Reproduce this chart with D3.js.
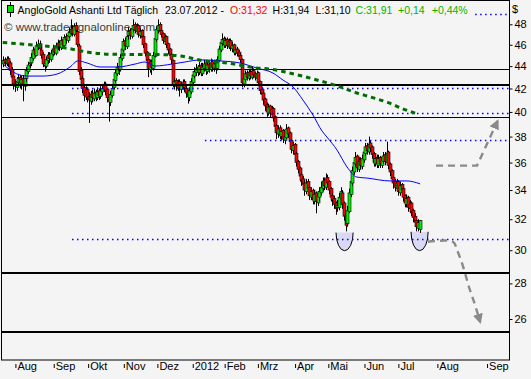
<!DOCTYPE html>
<html><head><meta charset="utf-8">
<script src="https://cdn.jsdelivr.net/npm/d3@7"></script>
<style>body{margin:0;background:#f4f4f4}svg{display:block}</style>
</head><body><svg id="c" width="531" height="379"></svg>
<script>
// ---- data (daily candles, index 0 = late July 2011, last = 23.07.2012) ----
const opens=[44.2,44.6,44.2,44.7,44.3,43.7,43.1,42.3,42.1,42.5,43.0,42.4,42.9,42.2,42.9,43.5,44.2,44.3,44.7,45.6,
45.0,45.8,46.1,45.5,45.1,44.1,44.0,44.5,45.1,44.6,45.1,45.7,45.2,45.8,46.2,45.7,46.5,45.9,46.8,46.4,
46.8,47.1,47.6,47.0,47.9,47.3,45.9,43.6,42.9,42.1,41.3,41.9,41.3,40.9,41.6,41.1,41.7,41.2,41.8,41.3,
41.7,42.1,42.4,41.9,41.1,40.8,41.4,42.1,42.7,43.3,44.0,43.7,44.7,45.5,46.4,45.8,46.9,47.4,46.8,47.5,
48.0,47.3,47.9,46.9,47.4,46.8,46.1,45.3,44.6,43.7,44.4,43.8,44.9,46.5,47.4,48.0,47.4,47.1,46.3,46.8,
46.1,45.6,45.1,44.5,42.3,42.7,42.1,42.6,41.9,42.2,42.6,42.0,41.7,41.2,41.7,42.5,43.1,43.4,43.9,43.4,
44.1,43.3,43.8,44.3,43.5,44.2,43.7,44.4,43.8,44.3,43.8,44.5,45.5,46.1,46.6,45.9,46.5,45.8,46.4,45.6,
46.0,45.2,45.6,45.3,45.0,44.6,42.4,42.8,43.4,42.9,43.5,43.0,43.6,43.3,42.9,43.4,42.6,41.9,41.6,41.1,
40.6,39.9,40.5,39.8,40.3,39.6,38.9,38.2,38.7,38.0,38.5,37.7,37.9,38.7,38.3,37.7,36.9,37.4,36.7,36.1,
35.6,35.1,34.8,34.5,33.9,34.6,34.2,33.5,34.0,33.2,33.8,33.1,33.5,33.8,34.1,34.7,34.2,34.9,34.6,34.1,
33.6,33.4,33.1,32.8,32.8,33.4,33.8,33.1,32.3,31.7,32.5,33.7,34.5,35.3,35.9,36.5,35.5,36.2,35.7,36.2,
36.7,37.3,36.8,37.5,37.2,36.7,35.9,36.4,35.8,36.4,35.8,36.1,36.6,36.0,36.8,35.9,35.4,34.9,34.6,34.1,
34.6,33.8,34.4,34.1,33.6,33.0,33.5,32.7,33.1,32.6,32.2,31.9,31.4,31.32];
const highs=[44.9,44.8,44.9,44.9,44.5,43.9,43.3,42.8,43.0,43.3,43.2,43.1,43.2,43.2,43.9,44.4,44.7,45.2,45.8,45.9,
46.3,46.5,46.4,45.8,45.3,44.5,44.9,45.3,45.3,45.5,46.0,45.9,46.2,46.5,46.4,46.8,46.7,47.0,47.1,47.3,
47.7,48.5,47.9,48.1,48.2,47.5,46.1,43.9,43.1,42.3,42.2,42.1,41.7,41.8,41.9,42.0,41.9,42.1,42.0,42.2,
42.4,42.6,42.6,42.0,41.5,41.8,42.3,43.1,43.7,44.3,44.3,45.1,45.9,46.6,46.7,47.1,47.7,47.6,47.9,48.5,
48.2,48.1,48.0,47.6,47.5,46.9,46.2,45.4,44.7,44.6,44.6,45.3,46.9,47.8,48.5,48.2,47.7,47.2,47.0,46.9,
46.2,45.7,45.3,44.6,42.9,42.9,42.8,42.8,42.6,42.8,42.8,42.2,41.9,42.1,42.9,43.5,43.9,44.2,44.1,44.4,
44.3,44.3,44.6,44.5,44.5,44.4,44.7,44.6,44.6,44.5,44.9,45.9,46.5,47.1,46.8,46.7,46.7,46.6,46.6,46.3,
46.1,45.8,45.8,45.5,45.2,44.7,43.3,43.6,43.6,43.7,43.7,44.0,43.8,43.5,43.6,43.5,42.7,42.1,41.8,41.2,
40.8,40.7,40.6,40.5,40.4,39.7,39.0,38.9,38.9,38.7,38.6,38.3,39.0,38.8,38.4,37.8,37.6,37.5,36.8,36.2,
35.7,35.3,35.0,34.7,34.8,34.8,34.3,34.2,34.1,34.0,33.9,33.9,34.2,34.6,34.9,34.9,35.2,35.1,34.7,34.2,
33.8,33.6,33.2,33.3,33.8,34.2,34.0,33.2,32.4,32.9,34.1,34.9,35.7,36.3,36.8,36.6,36.4,36.4,36.6,37.1,
37.5,37.5,38.0,37.7,37.3,36.8,36.6,36.6,36.6,36.5,36.5,36.8,36.8,37.6,36.9,36.0,35.5,35.0,34.8,34.8,
34.7,34.6,34.5,34.2,33.7,33.7,33.6,33.3,33.2,32.7,32.4,32.0,32.0,31.94];
const lows=[43.9,44.0,44.0,43.9,43.2,42.7,41.9,41.7,41.8,42.2,42.0,41.9,40.9,41.8,42.6,43.3,43.8,44.0,44.5,44.8,
44.9,45.5,45.2,44.7,43.9,43.5,43.8,44.2,44.3,44.4,44.9,45.0,45.0,45.5,45.4,45.5,45.7,45.8,46.1,46.2,
46.6,46.9,46.8,46.8,47.0,45.8,43.2,42.4,41.6,40.9,41.0,40.8,39.1,40.6,40.8,40.9,40.9,41.0,41.0,41.1,
41.4,41.7,41.4,40.8,39.2,40.5,41.2,41.9,42.5,43.1,43.2,43.5,44.5,45.3,45.5,45.6,46.5,46.5,46.6,47.2,
47.1,47.0,46.7,46.6,46.3,45.7,44.9,44.1,43.0,43.4,43.2,43.6,44.8,46.3,47.1,47.0,46.7,46.1,46.0,45.7,
45.1,44.7,44.2,42.1,41.9,41.8,41.8,41.3,41.6,41.9,41.7,41.2,40.7,40.9,41.5,42.3,42.9,43.1,43.1,43.2,
43.1,43.1,43.5,43.2,43.3,43.4,43.5,43.5,43.5,43.3,43.6,44.4,45.3,45.9,45.7,45.7,45.6,45.6,45.4,45.3,
45.0,45.0,44.9,44.6,44.3,42.1,42.1,42.6,42.7,42.7,42.8,42.8,42.9,42.7,42.7,42.2,41.5,41.1,40.6,40.1,
39.6,39.7,39.5,39.6,39.2,38.5,37.8,37.9,37.8,37.7,37.5,37.4,37.8,37.9,37.3,36.7,36.6,36.3,35.7,35.2,
34.6,34.3,34.0,33.6,33.7,33.8,33.3,33.3,33.0,33.0,32.4,32.9,33.2,33.6,33.9,34.0,34.0,34.2,33.7,33.2,
32.9,32.7,32.3,32.5,32.6,33.2,32.7,31.9,31.2,31.5,32.4,33.5,34.3,35.1,35.7,35.3,35.3,35.5,35.5,36.0,
36.5,36.6,36.6,36.8,36.3,35.7,35.7,35.6,35.6,35.6,35.6,35.9,35.8,35.9,35.5,35.0,34.5,34.1,33.9,33.9,
33.6,33.6,33.7,33.2,32.8,32.8,32.5,32.4,32.2,31.8,31.5,31.2,31.2,31.10];
const closes=[44.5,44.3,44.6,44.2,43.6,43.0,42.4,42.2,42.6,42.9,42.5,42.8,42.3,42.9,43.6,44.1,44.3,44.8,45.5,45.1,
45.9,46.0,45.6,45.0,44.2,44.0,44.6,45.0,44.7,45.2,45.6,45.3,45.9,46.1,45.8,46.4,46.0,46.7,46.5,46.9,
47.2,47.5,47.1,47.8,47.4,46.0,43.5,42.8,42.0,41.4,41.8,41.2,41.0,41.5,41.2,41.6,41.3,41.7,41.4,41.8,
42.0,42.3,41.8,41.2,40.9,41.5,42.0,42.8,43.4,43.9,43.6,44.8,45.6,46.3,45.9,46.8,47.3,46.9,47.6,47.9,
47.4,47.8,47.0,47.3,46.7,46.0,45.2,44.5,43.8,44.3,43.9,45.0,46.6,47.5,47.9,47.3,47.0,46.4,46.7,46.0,
45.5,45.0,44.6,42.4,42.6,42.2,42.5,42.0,42.3,42.5,42.1,41.6,41.3,41.8,42.6,43.2,43.5,43.8,43.5,44.0,
43.4,43.9,44.2,43.6,44.1,43.8,44.3,43.9,44.2,43.7,44.6,45.6,46.2,46.5,46.0,46.4,45.9,46.3,45.7,45.9,
45.3,45.5,45.2,44.9,44.6,42.5,42.9,43.3,43.0,43.4,43.1,43.5,43.2,43.0,43.3,42.5,41.8,41.5,41.0,40.5,
40.0,40.4,39.9,40.2,39.5,38.8,38.3,38.6,38.1,38.4,37.8,38.0,38.6,38.2,37.6,37.0,37.3,36.6,36.0,35.5,
35.0,34.7,34.4,34.0,34.5,34.1,33.6,33.9,33.3,33.7,33.2,33.6,33.9,34.2,34.6,34.3,34.8,34.5,34.0,33.5,
33.3,33.0,32.7,32.9,33.5,33.9,33.0,32.2,31.6,32.6,33.8,34.6,35.4,36.0,36.4,35.6,36.1,35.8,36.3,36.8,
37.2,36.9,37.4,37.1,36.6,36.0,36.3,35.9,36.3,35.9,36.2,36.5,36.1,36.7,35.8,35.3,34.8,34.5,34.2,34.5,
33.9,34.3,34.0,33.5,33.1,33.4,32.8,33.0,32.5,32.1,31.8,31.5,31.77,31.91];

// moving average (blue), nodes: candle index / price
const maIdx=[-0.2,5.8,14.3,24.1,32.6,40.5,45.3,50.8,58.7,69.7,80.0,86.1,92.2,102.5,110.4,119.5,131.7,143.8,154.2,163.9,170.0,176.1,182.1,188.2,193.7,196.7,202.8,208.9,214.9,221.0,235.0,245.3,253.3];
const maVal=[44.19,43.47,43.10,43.10,43.28,43.92,44.48,44.29,43.92,43.92,44.19,44.38,44.01,44.19,44.38,44.57,44.48,44.29,43.82,43.37,42.74,42.13,41.0,39.74,38.44,37.96,36.95,35.67,34.93,34.86,34.65,34.65,34.44];

// green dashed trend curve
const trendIdx=[-0.4,11.1,24.3,38.5,51.6,65.8,79.0,92.2,107.4,121.5,137.8,152.3,163.1,173.2,183.3,193.5,203.6,213.7,223.9,234.0,243.5,252.2];
const trendVal=[46.21,46.08,45.89,45.67,45.29,45.10,45.08,45.08,44.94,44.50,44.26,43.86,43.71,43.40,43.04,42.63,42.20,41.66,41.23,40.78,40.22,39.81];

// horizontal levels
const thinLevels=[43.75,39.6];
const thickLevels=[42.3,28.64,25.33];
const dotLevels=[49.05,42.0,39.95,37.7,30.7];
const dotStartIdx=[150,41.7,41.7,122.5,41.7];

// marked lows (bowls): centre index, half width (days), top price, bottom price
const bowlIdx=[207.4,253];
const bowlHalf=[5.2,5.2];
const bowlTop=[31.12,31.17];
const bowlBottom=[29.97,29.97];

// projection arrows
const arrowUpIdx=[263.0,287.9,300.4];
const arrowUpVal=[35.77,35.77,39.25];
const arrowDownIdx=[258.1,273.3,275.7,278.1,280.6,283.0,286.1,289.8];
const arrowDownVal=[30.53,30.53,30.02,29.40,28.61,27.79,26.94,25.84];

// axes
const monthLabels=["Aug","Sep","Okt","Nov","Dez","2012","Feb","Mrz","Apr","Mai","Jun","Jul","Aug","Sep"];
const monthPos=[7.0,30.3,51.2,72.9,93.3,114.8,134.2,154.4,177.0,197.2,219.2,239.8,263.5,293.7];
const yTicks=[26,28,30,32,34,36,38,40,42,44,46,48];
const titleName="AngloGold Ashanti Ltd Täglich";
const titleDate="23.07.2012";

// ---- drawing ----
const svg=d3.select("#c");
const L=2,R=509,T=0.5,B=360;
const x=d3.scaleLinear().domain([0,253]).range([3.4,419.6]);
const y=d3.scaleLog().domain([48,26]).range([24.3,319]);
const FONT="'Liberation Sans', Arial, sans-serif";
const UP="#00ee00", DN="#ff0000";

svg.append("rect").attr("width",531).attr("height",379).attr("fill","#f4f4f4");
svg.append("defs").append("clipPath").attr("id","pc").append("rect")
  .attr("x",L).attr("y",T).attr("width",R-L).attr("height",B-T);
svg.select("defs").append("marker").attr("id","ah").attr("viewBox","0 0 10 10")
  .attr("refX",8).attr("refY",5).attr("markerWidth",4.2).attr("markerHeight",4.2)
  .attr("orient","auto").attr("markerUnits","strokeWidth")
  .append("path").attr("d","M0,0 L10,5 L0,10 Z").attr("fill","#8a8a8a");

const g=svg.append("g").attr("clip-path","url(#pc)");

// watermark
g.append("text").attr("x",4).attr("y",31).attr("font-family",FONT).attr("font-size",11.5)
  .attr("fill","#3c3c3c").text("© www.tradesignalonline.com");

// bowls
bowlIdx.forEach((b,i)=>{
  const x0=x(b-bowlHalf[i]), x1=x(b+bowlHalf[i]), yt=y(bowlTop[i]), yb=y(bowlBottom[i]);
  const rx=(x1-x0)/2, ry=yb-yt;
  g.append("path").attr("d",`M${x0},${yt} L${x1},${yt} A${rx},${ry} 0 0 1 ${x0},${yt} Z`)
    .attr("fill","#d9d9f3");
  g.append("path").attr("d",`M${x0},${yt} A${rx},${ry} 0 0 0 ${x1},${yt}`)
    .attr("fill","none").attr("stroke","#000").attr("stroke-width",1);
});

// candles
const cg=g.append("g");
closes.forEach((c,i)=>{
  const xc=Math.round(x(i))+0.5;
  const o=opens[i];
  cg.append("line").attr("x1",xc).attr("x2",xc).attr("y1",y(highs[i])).attr("y2",y(lows[i]))
    .attr("stroke","#000").attr("stroke-width",1);
  const top=Math.min(y(o),y(c)), h=Math.max(1,Math.abs(y(o)-y(c)));
  cg.append("rect").attr("x",xc-1.5).attr("y",top).attr("width",3).attr("height",h)
    .attr("fill",c>=o?UP:DN).attr("stroke","#000").attr("stroke-width",0.6);
});

// horizontal levels
thinLevels.forEach(v=>g.append("line").attr("x1",L).attr("x2",R).attr("y1",Math.round(y(v))+0.5).attr("y2",Math.round(y(v))+0.5)
  .attr("stroke","#000").attr("stroke-width",1));
thickLevels.forEach(v=>g.append("line").attr("x1",L).attr("x2",R).attr("y1",Math.round(y(v))).attr("y2",Math.round(y(v)))
  .attr("stroke","#000").attr("stroke-width",2));
dotLevels.forEach((v,i)=>g.append("line").attr("x1",x(dotStartIdx[i])).attr("x2",R)
  .attr("y1",Math.round(y(v))+0.5).attr("y2",Math.round(y(v))+0.5)
  .attr("stroke","#0000ff").attr("stroke-width",1.5).attr("stroke-dasharray","1.5,3.5"));

// MA line
g.append("path").datum(maIdx.map((d,i)=>[d,maVal[i]]))
  .attr("d",d3.line().x(d=>x(d[0])).y(d=>y(d[1])).curve(d3.curveMonotoneX))
  .attr("fill","none").attr("stroke","#0000ff").attr("stroke-width",1);

// trend curve
g.append("path").datum(trendIdx.map((d,i)=>[d,trendVal[i]]))
  .attr("d",d3.line().x(d=>x(d[0])).y(d=>y(d[1])).curve(d3.curveMonotoneX))
  .attr("fill","none").attr("stroke","#006b00").attr("stroke-width",3).attr("stroke-dasharray","4.5,4");

// arrows
g.append("path").datum(arrowUpIdx.map((d,i)=>[d,arrowUpVal[i]]))
  .attr("d",d3.line().x(d=>x(d[0])).y(d=>y(d[1])))
  .attr("fill","none").attr("stroke","#8a8a8a").attr("stroke-width",2.4).attr("stroke-dasharray","7,5")
  .attr("marker-end","url(#ah)");
g.append("path").datum(arrowDownIdx.map((d,i)=>[d,arrowDownVal[i]]))
  .attr("d",d3.line().x(d=>x(d[0])).y(d=>y(d[1])).curve(d3.curveCatmullRom))
  .attr("fill","none").attr("stroke","#8a8a8a").attr("stroke-width",2.4).attr("stroke-dasharray","7,5")
  .attr("marker-end","url(#ah)");

// title
const n=closes.length-1;
const fmt=v=>d3.format(".2f")(v).replace(".",",");
const chg=closes[n]-closes[n-1];
g.append("rect").attr("x",L).attr("y",0).attr("width",472).attr("height",17).attr("fill","#f4f4f4");
const tg=svg.append("g").attr("font-family",FONT).attr("font-size",10.5);
tg.append("line").attr("x1",10.5).attr("x2",10.5).attr("y1",2).attr("y2",17).attr("stroke","#000");
tg.append("rect").attr("x",7.5).attr("y",5.5).attr("width",6).attr("height",7).attr("fill","#00e000").attr("stroke","#000");
const parts=[[17.6,titleName,"#000"],[165,titleDate+" -","#000"],[230,"O:"+fmt(opens[n]),"#ff0000"],
 [272.6,"H:"+fmt(highs[n]),"#000"],[315.6,"L:"+fmt(lows[n]),"#000"],[355.6,"C:"+fmt(closes[n]),"#00b400"],
 [398,(chg>=0?"+":"")+fmt(chg),"#00b400"],[431.8,(chg>=0?"+":"")+fmt(chg/closes[n-1]*100)+"%","#00b400"]];
parts.forEach(p=>tg.append("text").attr("x",p[0]).attr("y",13.5).attr("fill",p[2]).text(p[1]));

// border
svg.append("rect").attr("x",L-0.5).attr("y",T).attr("width",R-L+1).attr("height",B-T)
  .attr("fill","none").attr("stroke","#000").attr("stroke-width",1);

// y axis
const ya=svg.append("g").attr("transform",`translate(${R+0.5},0)`)
  .call(d3.axisRight(y).tickValues(yTicks).tickSize(3).tickPadding(2).tickFormat(d=>d));
ya.select(".domain").remove();
ya.selectAll("text").attr("font-family",FONT).attr("font-size",11).attr("fill","#000");
ya.selectAll("line").attr("stroke","#000");
svg.append("text").attr("x",512).attr("y",13).attr("font-family",FONT).attr("font-size",11).text("$");

// x axis
const xa=svg.append("g").attr("transform","translate(0,364)")
  .call(d3.axisBottom(x).tickValues(monthPos).tickSize(4).tickFormat((d,i)=>monthLabels[i]));
xa.select(".domain").remove();
xa.selectAll("line").attr("stroke","#000").attr("transform","translate(0.5,0)");
xa.selectAll("text").attr("font-family",FONT).attr("font-size",11).attr("fill","#000")
  .attr("text-anchor","start").attr("dx",2).attr("dy",-1);
</script></body></html>
